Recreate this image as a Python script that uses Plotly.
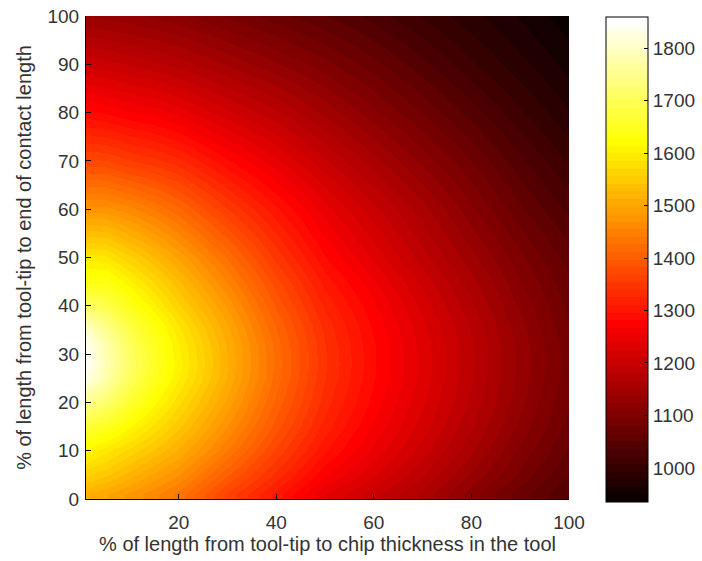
import numpy as np
import plotly.graph_objects as go

# Grid positions (% of length)
x_pct = [1, 5, 10, 15, 20, 30, 40, 50, 60, 70, 80, 90, 100]
y_pct = [1, 5, 10, 15, 20, 25, 28, 32, 36, 40, 45, 50, 60, 70, 80, 90, 100]

# Temperature along each x position, listed from y = 1 up to y = 100
t_x1 = [1515, 1560, 1610, 1670, 1750, 1830, 1852, 1840, 1790, 1715, 1640, 1595, 1475, 1372, 1287, 1207, 1137]
t_x5 = [1500, 1545, 1590, 1650, 1720, 1775, 1785, 1775, 1740, 1690, 1640, 1590, 1475, 1370, 1280, 1202, 1132]
t_x10 = [1480, 1520, 1565, 1615, 1665, 1705, 1715, 1705, 1680, 1645, 1605, 1560, 1460, 1355, 1270, 1193, 1127]
t_x15 = [1460, 1495, 1540, 1580, 1620, 1650, 1658, 1650, 1635, 1605, 1570, 1530, 1440, 1345, 1262, 1185, 1120]
t_x20 = [1435, 1470, 1510, 1545, 1575, 1600, 1605, 1600, 1585, 1560, 1530, 1495, 1415, 1330, 1248, 1175, 1112]
t_x30 = [1365, 1400, 1440, 1470, 1495, 1512, 1515, 1512, 1500, 1482, 1455, 1425, 1355, 1285, 1215, 1150, 1092]
t_x40 = [1305, 1335, 1365, 1390, 1408, 1420, 1422, 1420, 1410, 1395, 1375, 1350, 1300, 1243, 1185, 1125, 1071]
t_x50 = [1240, 1270, 1298, 1318, 1332, 1340, 1342, 1340, 1334, 1322, 1305, 1284, 1245, 1198, 1149, 1099, 1051]
t_x60 = [1200, 1225, 1248, 1264, 1276, 1283, 1284, 1283, 1278, 1270, 1255, 1235, 1200, 1158, 1113, 1070, 1030]
t_x70 = [1162, 1182, 1202, 1216, 1226, 1232, 1233, 1232, 1227, 1219, 1205, 1187, 1158, 1118, 1078, 1040, 1005]
t_x80 = [1115, 1135, 1155, 1168, 1178, 1183, 1184, 1183, 1178, 1170, 1158, 1143, 1112, 1080, 1045, 1010, 983]
t_x90 = [1072, 1090, 1105, 1118, 1127, 1132, 1133, 1132, 1127, 1120, 1110, 1098, 1068, 1040, 1010, 983, 962]
t_x100 = [1035, 1050, 1063, 1073, 1080, 1085, 1086, 1085, 1080, 1075, 1067, 1058, 1032, 1005, 980, 958, 940]

columns = [t_x1, t_x5, t_x10, t_x15, t_x20, t_x30, t_x40, t_x50,
           t_x60, t_x70, t_x80, t_x90, t_x100]
z = np.array(columns).T  # rows follow y, columns follow x

cbar_ticks = [1000, 1100, 1200, 1300, 1400, 1500, 1600, 1700, 1800]
z_min, z_max = 935, 1860

# 64-level "hot" colour map (black -> red -> yellow -> white)
n_levels = 64
n_third = int(3 / 8 * n_levels)
hot = []
for k in range(1, n_levels + 1):
    r = min(k / n_third, 1.0)
    g = min(max((k - n_third) / n_third, 0.0), 1.0)
    b = max((k - 2 * n_third) / (n_levels - 2 * n_third), 0.0)
    col = f"rgb({round(r*255)},{round(g*255)},{round(b*255)})"
    hot.append([(k - 1) / n_levels, col])
    hot.append([k / n_levels, col])

FONT = "Liberation Sans, Arial, sans-serif"
TXT = "#333"

fig = go.Figure(go.Heatmap(
    x=x_pct, y=y_pct, z=z,
    zmin=z_min, zmax=z_max,
    zsmooth="best",
    colorscale=hot,
    colorbar=dict(
        thickness=42, thicknessmode="pixels",
        len=1.004, lenmode="fraction",
        x=1.0766, xanchor="left", xpad=0,
        y=0.496, yanchor="middle", ypad=0,
        outlinecolor="black", outlinewidth=1,
        tickvals=cbar_ticks, ticks="inside", ticklen=4,
        tickcolor="black",
        tickfont=dict(family=FONT, size=19, color=TXT),
    ),
    hoverinfo="skip",
))

fig.update_layout(
    width=702, height=561,
    margin=dict(l=86, r=133, t=16, b=62, autoexpand=False),
    paper_bgcolor="white", plot_bgcolor="white",
    font=dict(family=FONT, size=19, color=TXT),
    xaxis=dict(
        range=[1, 100], tickvals=[20, 40, 60, 80, 100],
        ticks="inside", ticklen=5, tickcolor="black",
        showline=True, linecolor="black", linewidth=1,
        showgrid=False, zeroline=False,
        tickfont=dict(size=19), ticklabelstandoff=6,
        title=dict(text="% of length from tool-tip to chip thickness in the tool",
                   font=dict(size=20), standoff=2),
    ),
    yaxis=dict(
        range=[0, 100], dtick=10,
        ticks="inside", ticklen=5, tickcolor="black",
        showline=True, linecolor="black", linewidth=1,
        showgrid=False, zeroline=False,
        tickfont=dict(size=19), ticklabelstandoff=2,
        title=dict(text="% of length from tool-tip to end of contact length",
                   font=dict(size=20), standoff=10),
    ),
)

fig.write_html("out.html")
